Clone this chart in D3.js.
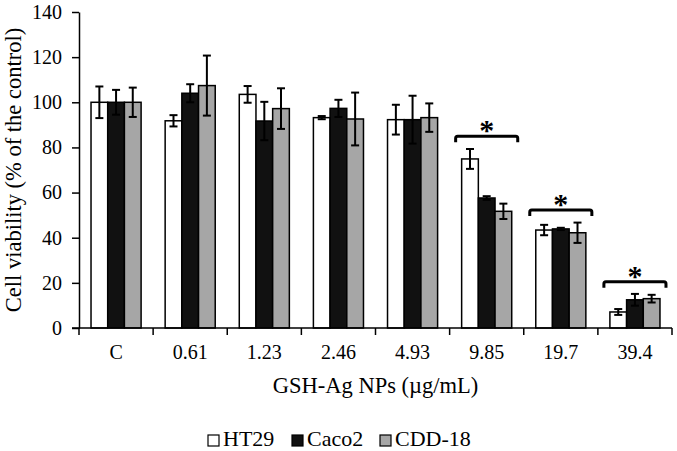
<!DOCTYPE html>
<html><head><meta charset="utf-8">
<script src="https://cdn.jsdelivr.net/npm/d3@7"></script>
<style>body{margin:0;background:#fff}svg{display:block}text{font-family:"Liberation Serif","Times New Roman",serif;fill:#000}</style>
</head><body><svg id="c" width="677" height="451"></svg>
<script>
const categories = ["C","0.61","1.23","2.46","4.93","9.85","19.7","39.4"];
const seriesNames = ["HT29","Caco2","CDD-18"];
const seriesColors = ["#ffffff","#111111","#a6a6a6"];
const ht29 = [100, 91.8, 103.5, 93.2, 92.3, 74.9, 43.4, 7.1];
const ht29Err = [7, 2.5, 3.7, 0.7, 6.6, 4.4, 2.3, 1.3];
const caco2 = [100, 104, 91.7, 97.3, 92.3, 57.6, 43.9, 12.5];
const caco2Err = [5.5, 4, 8.5, 3.8, 10.6, 0.8, 0.5, 2.6];
const cdd18 = [100, 107.4, 97.2, 92.6, 93.2, 51.7, 42.2, 13];
const cdd18Err = [6.5, 13.3, 9, 11.7, 6.3, 3.4, 4.5, 1.7];
const yTicks = [0,20,40,60,80,100,120,140];
const sigCats = ["9.85","19.7","39.4"];
const sigLevels = [85, 52.3, 20.5];

const values = [ht29, caco2, cdd18];
const errs = [ht29Err, caco2Err, cdd18Err];
const svg = d3.select("#c");
const L = 79, R = 672, T = 12, B = 328;
const x0 = d3.scaleBand().domain(categories).range([L, R]).padding(0);
const x1 = d3.scaleBand().domain(seriesNames).range([0, x0.bandwidth()]).paddingInner(0).paddingOuter(0.72);
const y = d3.scaleLinear().domain([0, 140]).range([B, T]);

// y axis
const yAxis = svg.append("g").attr("transform", `translate(${L},0)`)
  .call(d3.axisLeft(y).tickValues(yTicks).tickSize(7).tickSizeOuter(0).tickPadding(10));
yAxis.select(".domain").attr("stroke","#000").attr("stroke-width",1.5);
yAxis.selectAll(".tick line").attr("stroke","#000").attr("stroke-width",1.5);
yAxis.selectAll(".tick text").style("font-size","20px").style("font-family","Liberation Serif").attr("fill","#000");

// bars
const data = [];
categories.forEach((c, i) => seriesNames.forEach((s, j) => data.push({c, s, j, v: values[j][i], e: errs[j][i]})));
svg.append("g").selectAll("rect").data(data).join("rect")
  .attr("x", d => x0(d.c) + x1(d.s))
  .attr("y", d => y(d.v))
  .attr("width", x1.bandwidth())
  .attr("height", d => y(0) - y(d.v))
  .attr("fill", d => seriesColors[d.j])
  .attr("stroke", "#000").attr("stroke-width", 1.5);

// error bars
const eg = svg.append("g").attr("stroke","#000").attr("stroke-width",2);
data.forEach(d => {
  const cx = x0(d.c) + x1(d.s) + x1.bandwidth()/2;
  eg.append("line").attr("x1",cx).attr("x2",cx).attr("y1",y(d.v+d.e)).attr("y2",y(d.v-d.e));
  eg.append("line").attr("x1",cx-4).attr("x2",cx+4).attr("y1",y(d.v+d.e)).attr("y2",y(d.v+d.e));
  eg.append("line").attr("x1",cx-4).attr("x2",cx+4).attr("y1",y(d.v-d.e)).attr("y2",y(d.v-d.e));
});

// x axis
const xAxisG = svg.append("g").attr("transform", `translate(0,${B})`);
xAxisG.append("line").attr("x1", L-7).attr("x2", R).attr("y1",0).attr("y2",0).attr("stroke","#000").attr("stroke-width",1.5);
const bounds = categories.map(c => x0(c)).concat([R]);
xAxisG.selectAll("line.tk").data(bounds).join("line").attr("class","tk")
  .attr("x1", d=>d).attr("x2", d=>d).attr("y1",0).attr("y2",7).attr("stroke","#000").attr("stroke-width",1.5);
xAxisG.selectAll("text").data(categories).join("text")
  .attr("x", d => x0(d) + x0.bandwidth()/2).attr("y", 31)
  .attr("text-anchor","middle").style("font-size","20px").text(d=>d);

// significance brackets
sigCats.forEach((c, i) => {
  const xa = x0(c) + x1(seriesNames[0]) - 6;
  const xb = x0(c) + x1(seriesNames[2]) + x1.bandwidth() + 6;
  const yy = y(sigLevels[i]);
  svg.append("path").attr("d", `M${xa},${yy+6} L${xa},${yy+2} Q${xa},${yy} ${xa+2},${yy} L${xb-2},${yy} Q${xb},${yy} ${xb},${yy+2} L${xb},${yy+6}`)
    .attr("fill","none").attr("stroke","#000").attr("stroke-width",3);
  svg.append("text").attr("x",(xa+xb)/2).attr("y",yy+4).attr("text-anchor","middle")
    .style("font-size","30px").style("font-weight","bold").text("*");
});

// axis titles
svg.append("text").attr("x",(L+R)/2).attr("y",393).attr("text-anchor","middle").style("font-size","22.5px").text("GSH-Ag NPs (µg/mL)");
svg.append("text").attr("transform",`translate(20.5,${(T+B)/2}) rotate(-90)`).attr("text-anchor","middle").style("font-size","22.5px").text("Cell viability (% of the control)");

// legend
const legX = [208, 292, 380];
const lg = svg.append("g");
seriesNames.forEach((s, j) => {
  lg.append("rect").attr("x", legX[j]).attr("y", 435).attr("width", 11).attr("height", 11)
    .attr("fill", seriesColors[j]).attr("stroke","#000").attr("stroke-width",1.2);
  lg.append("text").attr("x", legX[j]+15).attr("y", 446).style("font-size","22px").text(s);
});
</script></body></html>
